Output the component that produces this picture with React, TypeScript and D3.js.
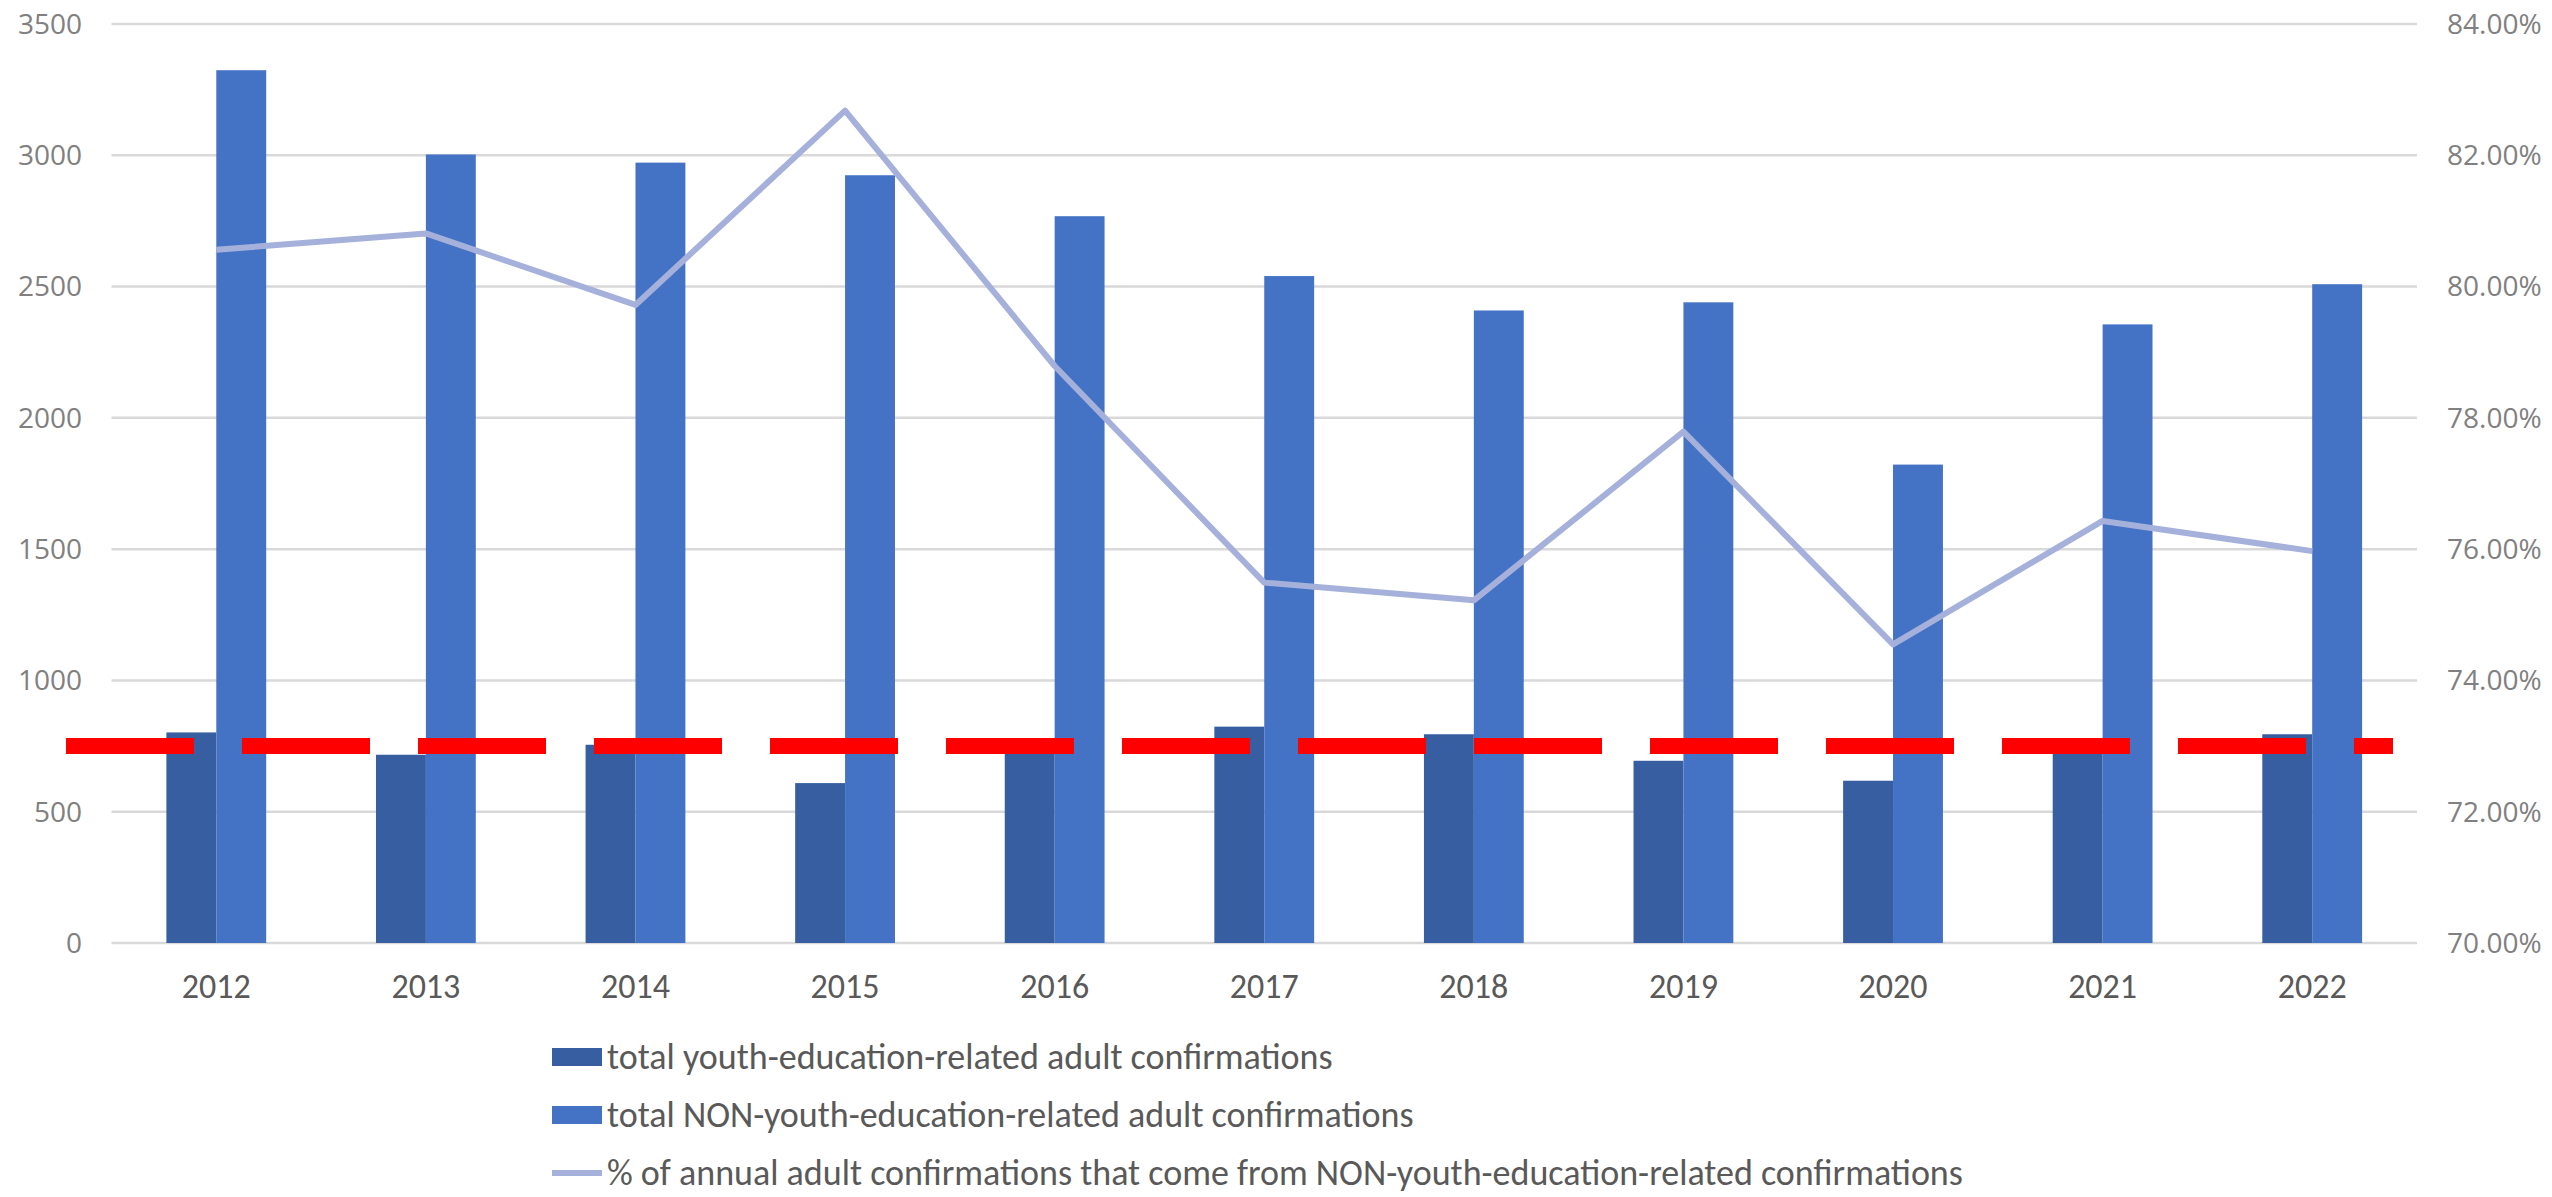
import React, { useEffect, useRef } from 'react';
import * as d3 from 'd3';

// values
const years = ['2012', '2013', '2014', '2015', '2016', '2017', '2018', '2019', '2020', '2021', '2022'];
const youthConfirmations = [802, 717, 755, 609, 745, 824, 795, 694, 618, 727, 795];
const nonYouthConfirmations = [3324, 3003, 2972, 2924, 2768, 2540, 2409, 2440, 1822, 2356, 2509];
const pctNonYouth = [80.56, 80.81, 79.72, 82.68, 78.79, 75.49, 75.22, 77.79, 74.55, 76.43, 75.97];
const leftTicks = [0, 500, 1000, 1500, 2000, 2500, 3000, 3500];
const rightTicks = [70, 72, 74, 76, 78, 80, 82, 84];
const thresholdValue = 750;
const legendLabels = [
  'total youth-education-related adult confirmations',
  'total NON-youth-education-related adult confirmations',
  '% of annual adult confirmations that come from NON-youth-education-related confirmations'
];

const W = 2552;
const H = 1197;

const DARK = '#365EA0';
const LIGHT = '#4472C4';
const LINE = '#A5B1DB';

const App: React.FC = () => {
  const svgRef = useRef<SVGSVGElement>(null);

  useEffect(() => {
    if (!svgRef.current) return;
    const svg = d3.select(svgRef.current);
    svg.selectAll('*').remove();

    const plot = { left: 111.5, right: 2417, top: 24, bottom: 943 };

    const x = d3.scaleBand<string>()
      .domain(years)
      .range([plot.left, plot.right])
      .paddingInner(0)
      .paddingOuter(0);

    const yLeft = d3.scaleLinear().domain([0, 3500]).range([plot.bottom, plot.top]);
    const yRight = d3.scaleLinear().domain([70, 84]).range([plot.bottom, plot.top]);

    // Excel-style gap width of 110%
    const groupW = x.bandwidth() / 2.1;
    const barW = groupW / 2;

    svg.append('rect').attr('width', W).attr('height', H).attr('fill', '#ffffff');

    // gridlines
    svg.append('g')
      .selectAll('line')
      .data(leftTicks)
      .enter().append('line')
      .attr('x1', plot.left)
      .attr('x2', plot.right)
      .attr('y1', d => yLeft(d))
      .attr('y2', d => yLeft(d))
      .attr('stroke', '#d9d9d9')
      .attr('stroke-width', 2.5);

    // left axis labels
    svg.append('g')
      .selectAll('text')
      .data(leftTicks)
      .enter().append('text')
      .attr('x', 82)
      .attr('y', d => yLeft(d))
      .attr('dy', '0.35em')
      .attr('text-anchor', 'end')
      .style('font-family', '"Open Sans", sans-serif')
      .style('font-size', '28px')
      .style('fill', '#808080')
      .text(d => String(d));

    // right axis labels
    svg.append('g')
      .selectAll('text')
      .data(rightTicks)
      .enter().append('text')
      .attr('x', 2447)
      .attr('y', d => yRight(d))
      .attr('dy', '0.35em')
      .attr('text-anchor', 'start')
      .style('font-family', '"Open Sans", sans-serif')
      .style('font-size', '28px')
      .style('fill', '#808080')
      .text(d => d.toFixed(2) + '%');

    // x axis labels
    svg.append('g')
      .selectAll('text')
      .data(years)
      .enter().append('text')
      .attr('x', d => x(d)! + x.bandwidth() / 2)
      .attr('y', 986)
      .attr('dy', '0.35em')
      .attr('text-anchor', 'middle')
      .style('font-family', 'Carlito, "Liberation Sans Narrow", Lato, sans-serif')
      .style('font-size', '34px')
      .style('fill', '#595959')
      .text(d => d);

    // bars
    const bars = svg.append('g');
    bars.selectAll('.youth')
      .data(years)
      .enter().append('rect')
      .attr('class', 'youth')
      .attr('x', d => x(d)! + x.bandwidth() / 2 - barW)
      .attr('y', (d, i) => yLeft(youthConfirmations[i]))
      .attr('width', barW)
      .attr('height', (d, i) => plot.bottom - yLeft(youthConfirmations[i]))
      .attr('fill', DARK);

    bars.selectAll('.nonyouth')
      .data(years)
      .enter().append('rect')
      .attr('class', 'nonyouth')
      .attr('x', d => x(d)! + x.bandwidth() / 2)
      .attr('y', (d, i) => yLeft(nonYouthConfirmations[i]))
      .attr('width', barW)
      .attr('height', (d, i) => plot.bottom - yLeft(nonYouthConfirmations[i]))
      .attr('fill', LIGHT);

    // percentage line (right axis)
    const line = d3.line<number>()
      .x((d, i) => x(years[i])! + x.bandwidth() / 2)
      .y(d => yRight(d));

    svg.append('path')
      .datum(pctNonYouth)
      .attr('d', line)
      .attr('fill', 'none')
      .attr('stroke', LINE)
      .attr('stroke-width', 6)
      .attr('stroke-linejoin', 'round');

    // red dashed threshold annotation
    svg.append('line')
      .attr('x1', plot.left - 45.5)
      .attr('x2', plot.right - 24)
      .attr('y1', yLeft(thresholdValue))
      .attr('y2', yLeft(thresholdValue))
      .attr('stroke', '#ff0000')
      .attr('stroke-width', 16)
      .attr('stroke-dasharray', '128 48');

    // legend
    const legend = svg.append('g').attr('transform', 'translate(552, 1057)');
    const rowGap = 58;
    legendLabels.forEach((label, i) => {
      const row = legend.append('g').attr('transform', `translate(0, ${i * rowGap})`);
      if (i < 2) {
        row.append('rect')
          .attr('x', 0)
          .attr('y', -9)
          .attr('width', 50)
          .attr('height', 18)
          .attr('fill', i === 0 ? DARK : LIGHT);
      } else {
        row.append('line')
          .attr('x1', 0)
          .attr('x2', 50)
          .attr('y1', 0)
          .attr('y2', 0)
          .attr('stroke', LINE)
          .attr('stroke-width', 6);
      }
      row.append('text')
        .attr('x', 55)
        .attr('y', 0)
        .attr('dy', '0.32em')
        .style('font-family', 'Carlito, "Liberation Sans Narrow", Lato, sans-serif')
        .style('font-size', '36px')
        .style('fill', '#595959')
        .text(label);
    });
  }, []);

  return (
    <div style={{ position: 'absolute', left: 0, top: 0 }}>
      <svg ref={svgRef} width={W} height={H} style={{ display: 'block' }} />
    </div>
  );
};

export default App;
